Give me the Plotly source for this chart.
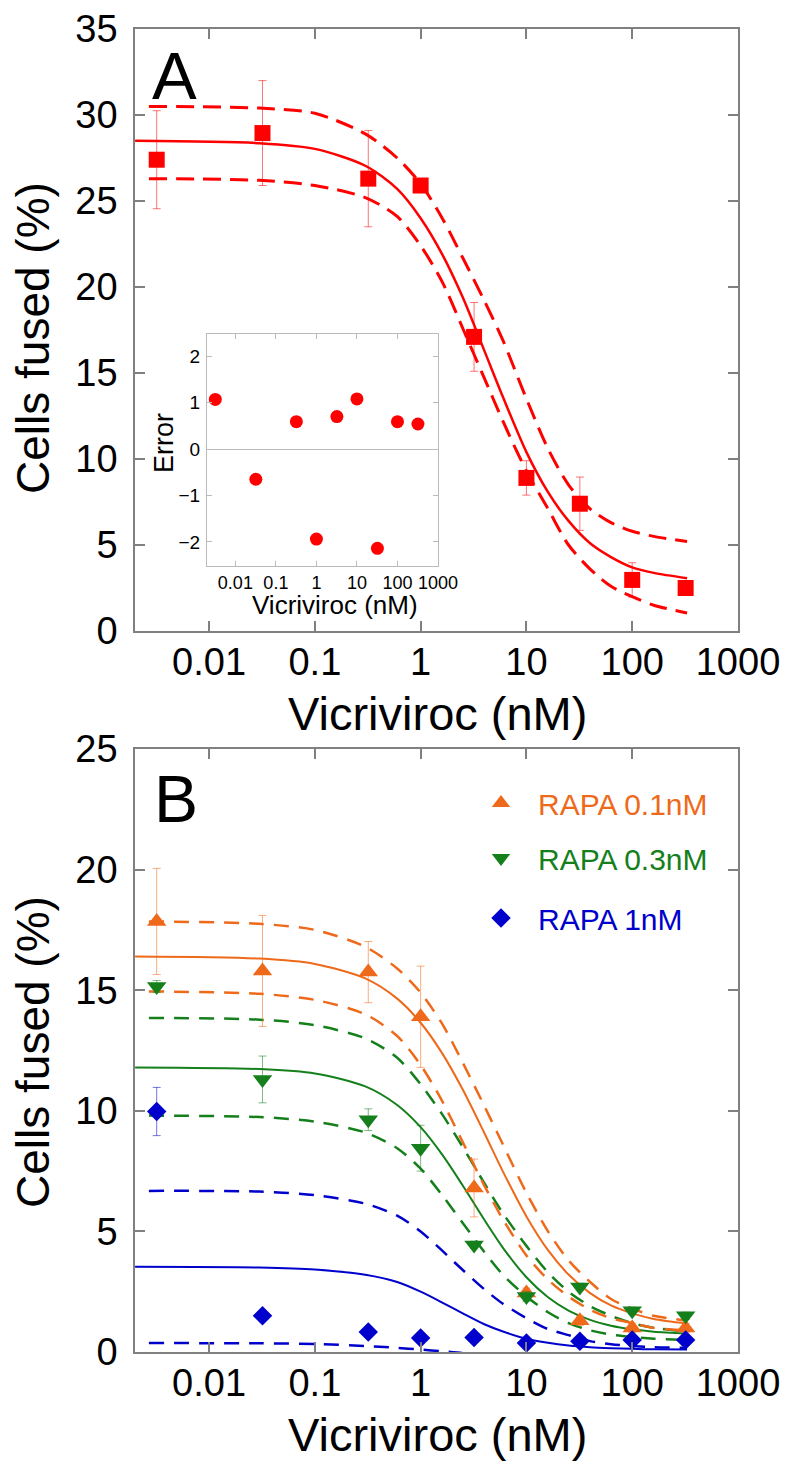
import plotly.graph_objects as go

# ---------------- data ----------------
dose = [0.0032, 0.032, 0.32, 1, 3.2, 10, 32, 100, 320]

# Panel A (vicriviroc alone)
a_fused = [27.4, 28.95, 26.3, 25.9, 17.1, 8.9, 7.4, 2.97, 2.5]
a_err = [2.85, 3.05, 2.8, 0.3, 2.0, 1.0, 1.55, 1.0, 0.3]
a_resid = [1.07, -0.65, 0.59, -1.94, 0.70, 1.08, -2.14, 0.59, 0.54]

# Panel B (with rapamycin)
b_orange = [17.85, 15.8, 15.75, 13.9, 6.8, 2.45, 1.3, 1.0, 1.0]
b_orange_err = [2.2, 2.3, 1.27, 2.1, 1.2, 0.2, 0.2, 0.2, 0.2]
b_green = [15.15, 11.3, 9.63, 8.45, 4.44, 2.3, 2.7, 1.71, 1.5]
b_green_err = [0.25, 0.97, 0.45, 0.95, 0.15, 0.2, 0.15, 0.15, 0.15]
b_blue = [9.97, 1.5, 0.83, 0.58, 0.6, 0.37, 0.45, 0.5, 0.5]
b_blue_err = [1.0, 0.1, 0.1, 0.1, 0.1, 0.1, 0.1, 0.1, 0.1]

# fitted curves and confidence bands
curve_x = [0.002, 0.03, 0.1, 0.3, 0.6, 1, 1.6, 2.5, 4, 6, 10, 16, 25, 40, 63, 100, 160, 330]
band_x = [0.0027, 0.03, 0.1, 0.3, 0.6, 1, 1.6, 2.5, 4, 6, 10, 16, 25, 40, 63, 100, 160, 330]

a_fit = [28.5, 28.36, 28.03, 27.05, 25.7, 24.0, 21.9, 19.4, 16.3, 13.6, 10.4, 8.07, 6.4, 5.1, 4.3, 3.7, 3.38, 3.07]
a_hi = [30.5, 30.4, 30.1, 28.9, 27.5, 26.0, 24.0, 21.7, 19.2, 16.9, 13.5, 10.6, 8.5, 7.1, 6.3, 5.8, 5.5, 5.2]
a_lo = [26.3, 26.2, 25.9, 25.2, 24.1, 22.4, 20.3, 17.6, 14.7, 12.2, 9.3, 7.1, 5.0, 3.6, 2.6, 2.0, 1.5, 1.05]

o_fit = [16.4, 16.31, 16.09, 15.49, 14.65, 13.65, 12.38, 10.88, 9.08, 7.48, 5.62, 4.22, 3.21, 2.44, 1.93, 1.6, 1.37, 1.18]
o_hi = [17.85, 17.75, 17.5, 16.8, 15.9, 14.9, 13.6, 12.0, 10.2, 8.6, 6.6, 5.0, 3.8, 2.9, 2.2, 1.8, 1.5, 1.3]
o_lo = [14.95, 14.85, 14.6, 14.0, 13.1, 11.9, 10.4, 8.7, 6.9, 5.5, 4.0, 3.0, 2.3, 1.75, 1.4, 1.2, 1.0, 0.9]

g_fit = [11.8, 11.73, 11.55, 11.01, 10.24, 9.32, 8.18, 6.9, 5.48, 4.32, 3.1, 2.27, 1.72, 1.33, 1.09, 0.94, 0.84, 0.77]
g_hi = [13.85, 13.78, 13.55, 13.0, 12.2, 11.1, 9.85, 8.5, 7.0, 5.75, 4.4, 3.3, 2.5, 1.9, 1.5, 1.2, 1.0, 0.85]
g_lo = [9.8, 9.74, 9.55, 9.1, 8.45, 7.6, 6.5, 5.35, 4.15, 3.2, 2.3, 1.65, 1.2, 0.9, 0.72, 0.62, 0.55, 0.5]

bl_fit = [3.53, 3.5, 3.42, 3.2, 2.9, 2.5, 2.05, 1.6, 1.15, 0.85, 0.55, 0.38, 0.27, 0.2, 0.16, 0.13, 0.11, 0.1]
bl_hi = [6.68, 6.65, 6.5, 6.15, 5.65, 5.0, 4.2, 3.4, 2.6, 2.0, 1.4, 0.95, 0.7, 0.45, 0.32, 0.25, 0.2, 0.17]
bl_lo = [0.37, 0.36, 0.33, 0.25, 0.17, 0.1, 0.03, -0.05, -0.2, -0.35, -0.55, -0.75, -0.9, -1.0, -1.1, -1.15, -1.2, -1.25]

x_ticks = [0.01, 0.1, 1, 10, 100, 1000]
x_ticktext = ["0.01", "0.1", "1", "10", "100", "1000"]

# ---------------- styling ----------------
FONT = "Arial, 'Liberation Sans', Helvetica, sans-serif"
RED = "#FF0000"
ORANGE = "#EE6A1A"
GREEN = "#15801B"
BLUE = "#0000CC"
AXC = "#808080"

# the page body adds an 8px offset, so the figure is 8px smaller than the window
OFF = 8
W, H = 791 - OFF, 1469 - OFF
L, R, T, B = 135 - OFF, 53, 29 - OFF, 117
PW = W - L - R
PH = H - T - B


def px_x(px):  # page pixel -> paper coordinate
    return (px - OFF - L) / PW


def px_y(py):
    return (H - B - (py - OFF)) / PH


def rgba(hexc, a):
    h = hexc.lstrip("#")
    return "rgba(%d,%d,%d,%.2f)" % (int(h[0:2], 16), int(h[2:4], 16), int(h[4:6], 16), a)


fig = go.Figure()


def add_curves(xa, ya, color, fit, hi, lo, width_solid, width_dash, dash):
    for xs, ys, d, w in ((band_x, hi, dash, width_dash), (band_x, lo, dash, width_dash),
                         (curve_x, fit, "solid", width_solid)):
        fig.add_trace(go.Scatter(x=xs, y=ys, mode="lines", xaxis=xa, yaxis=ya,
                                 line=dict(color=color, width=w, dash=d, shape="spline", smoothing=0.8),
                                 showlegend=False, hoverinfo="skip"))


# Panel A
add_curves("x", "y", RED, a_fit, a_hi, a_lo, 2.5, 3, "18px,9px")
fig.add_trace(go.Scatter(x=dose, y=a_fused, mode="markers", xaxis="x", yaxis="y",
                         marker=dict(symbol="square", size=16, color=RED),
                         error_y=dict(type="data", array=a_err, color=rgba(RED, 0.55), thickness=1, width=4),
                         showlegend=False, name="Vicriviroc"))

# Inset residuals
fig.add_trace(go.Scatter(x=dose, y=a_resid, mode="markers", xaxis="x3", yaxis="y3",
                         marker=dict(symbol="circle", size=13, color=RED),
                         showlegend=False, name="Error"))

# Panel B
add_curves("x2", "y2", BLUE, bl_fit, bl_hi, bl_lo, 2, 2.5, "15px,10px")
add_curves("x2", "y2", GREEN, g_fit, g_hi, g_lo, 2, 2.5, "15px,10px")
add_curves("x2", "y2", ORANGE, o_fit, o_hi, o_lo, 2, 2.5, "15px,10px")

series_b = [
    ("RAPA 0.1nM", b_orange, b_orange_err, ORANGE, "triangle-up", 17, "legend"),
    ("RAPA 0.3nM", b_green, b_green_err, GREEN, "triangle-down", 17, "legend2"),
    ("RAPA 1nM", b_blue, b_blue_err, BLUE, "diamond", 15, "legend3"),
]
for name, ys, errs, col, sym, sz, lg in series_b:
    fig.add_trace(go.Scatter(x=dose, y=ys, mode="markers", xaxis="x2", yaxis="y2",
                             marker=dict(symbol=sym, size=sz, color=col),
                             error_y=dict(type="data", array=errs, color=rgba(col, 0.55), thickness=1, width=4),
                             name=name, legend=lg, showlegend=True))

main_axis = dict(type="log", range=[-2.7, 3], tickvals=x_ticks, ticktext=x_ticktext,
                 ticks="inside", ticklen=10, tickwidth=1.5, tickcolor=AXC,
                 showline=True, linecolor=AXC, linewidth=1.5, mirror="ticks",
                 showgrid=False, zeroline=False, tickangle=0,
                 tickfont=dict(size=38, color="black", family=FONT), ticklabelstandoff=-3)
main_yaxis = dict(ticks="inside", ticklen=10, tickwidth=1.5, tickcolor=AXC,
                  showline=True, linecolor=AXC, linewidth=1.5, mirror="ticks",
                  showgrid=False, zeroline=False, dtick=5,
                  tickfont=dict(size=38, color="black", family=FONT), ticklabelstandoff=8)

inset_c = "#BBBBBB"
leg_common = dict(xanchor="left", yanchor="middle", bgcolor="rgba(0,0,0,0)", itemwidth=64)
LEG_X = px_x(464)
fig.update_layout(
    width=W, height=H,
    margin=dict(l=L, r=R, t=T, b=B, autoexpand=False),
    paper_bgcolor="white", plot_bgcolor="white",
    font=dict(family=FONT, color="black"),
    xaxis=dict(main_axis, domain=[0, 1], anchor="y"),
    yaxis=dict(main_yaxis, domain=[px_y(631), 1], range=[0, 35], anchor="x"),
    xaxis2=dict(main_axis, domain=[0, 1], anchor="y2"),
    yaxis2=dict(main_yaxis, domain=[0, px_y(749)], range=[0, 25], anchor="x2"),
    xaxis3=dict(type="log", range=[-2.7, 3], tickvals=x_ticks, ticktext=x_ticktext,
                domain=[px_x(207), px_x(438)], anchor="y3",
                ticks="inside", ticklen=5, tickcolor=inset_c, showline=True, linecolor=inset_c,
                linewidth=1, mirror="ticks", showgrid=False, zeroline=False, tickangle=0,
                tickfont=dict(size=18, color="black", family=FONT), ticklabelstandoff=0),
    yaxis3=dict(range=[-2.52, 2.48], tickvals=[-2, -1, 0, 1, 2], domain=[px_y(566), px_y(334)], anchor="x3",
                ticks="inside", ticklen=5, tickcolor=inset_c, showline=True, linecolor=inset_c,
                linewidth=1, mirror="ticks", showgrid=False, zeroline=True, zerolinecolor=inset_c,
                zerolinewidth=1, tickfont=dict(size=19, color="black", family=FONT), ticklabelstandoff=2),
    legend=dict(leg_common, x=LEG_X, y=px_y(803), font=dict(size=30, color=ORANGE, family=FONT)),
    legend2=dict(leg_common, x=LEG_X, y=px_y(858), font=dict(size=30, color=GREEN, family=FONT)),
    legend3=dict(leg_common, x=LEG_X, y=px_y(918), font=dict(size=30, color=BLUE, family=FONT)),
)

ann = [
    # axis titles
    dict(text="Vicriviroc (nM)", x=px_x(437), y=px_y(713), font=dict(size=47)),
    dict(text="Vicriviroc (nM)", x=px_x(437), y=px_y(1434), font=dict(size=47)),
    dict(text="Cells fused (%)", x=px_x(33), y=px_y(338), font=dict(size=46), textangle=-90),
    dict(text="Cells fused (%)", x=px_x(33), y=px_y(1052), font=dict(size=46), textangle=-90),
    # inset titles
    dict(text="Vicriviroc (nM)", x=px_x(335), y=px_y(605), font=dict(size=26)),
    dict(text="Error", x=px_x(164), y=px_y(443), font=dict(size=27), textangle=-90),
    # panel letters
    dict(text="A", x=px_x(150), y=px_y(75), font=dict(size=67), xanchor="left"),
    dict(text="B", x=px_x(152), y=px_y(799), font=dict(size=66), xanchor="left"),
]
for a in ann:
    a.setdefault("xanchor", "center")
    a.update(xref="paper", yref="paper", yanchor="middle", showarrow=False)
    a["font"] = dict(a["font"], family=FONT, color="black")
    fig.add_annotation(**a)

fig.write_html("out.html")
